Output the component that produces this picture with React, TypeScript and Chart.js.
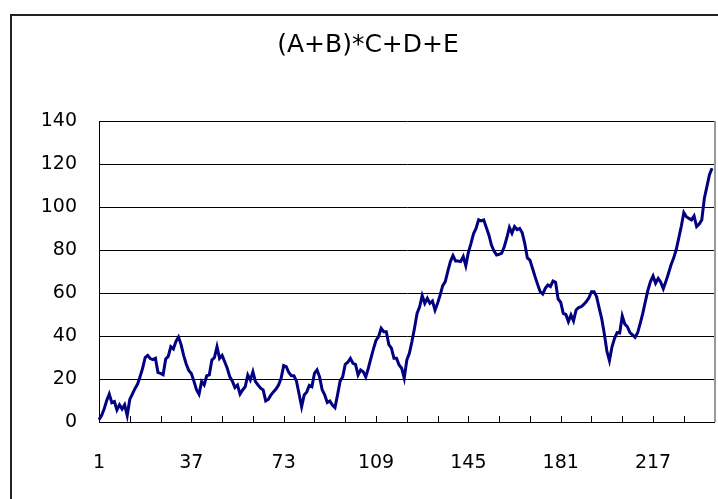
import React, { useEffect, useRef } from 'react';
import { Chart, registerables } from 'chart.js';

Chart.register(...registerables);

const TITLE = '(A+B)*C+D+E';
const CATEGORY_COUNT = 241;
const CATEGORIES = Array.from({ length: CATEGORY_COUNT }, (_, i) => String(i + 1));
const X_TICK_LABELS = ['1', '37', '73', '109', '145', '181', '217'];
const Y_MIN = 0;
const Y_MAX = 140;
const Y_STEP = 20;

const VALUES_1 = [
  1, 3, 6, 10, 13, 9, 9.5, 5.6, 8, 6, 8, 3, 10.5, 13, 15.5, 17.5, 21, 25, 30, 31,
  29.5, 29, 29.6, 23, 22.6, 22, 29.3, 30.5, 35, 34, 37.5, 39.5, 36, 31, 27, 24, 22.6, 19, 15, 12.9,
  18.8, 17.2, 21.5, 21.9, 28.8, 30, 35, 29.6, 31, 28, 25, 21, 19, 16, 17.2, 13, 14.9, 16.4, 21.9, 19.5,
];
const VALUES_2 = [
  23.4, 18.8, 17.2, 15.7, 14.9, 9.8, 10.5, 12.5, 14, 15.3, 17.2, 20.3, 26.2, 25.7, 23, 21.5, 21.5, 19, 13, 7.1,
  12.6, 14, 17, 16.4, 22.6, 24.2, 21, 15, 12.6, 9.1, 9.8, 7.9, 6.7, 12.6, 19, 21, 26.8, 27.8, 29.6, 27.3,
  26.8, 21.9, 24.2, 23.4, 21, 25, 29.6, 34, 38, 39.7, 43.6, 42, 42, 36, 34.3, 29.6, 29.6, 26.5, 25, 20.3,
];
const VALUES_3 = [
  28.8, 32, 37.4, 43.6, 50.5, 53.6, 58.8, 55.2, 57.5, 55.2, 56.3, 52, 55.2, 59, 63.4, 65.3, 70.2, 74.6, 77.4, 74.9,
  74.9, 74.6, 76.9, 72.7, 78.9, 83, 87.5, 90, 94, 93.5, 94, 90.5, 87, 82.3, 79.5, 77.7, 78, 78.5, 81.5, 85.7,
  90.5, 87.8, 90.9, 89.5, 90, 88, 83, 76.3, 75.3, 71.5, 67.6, 64, 60.6, 59.5, 62.2, 63.7, 63, 65.6, 65, 57.2,
];
const VALUES_4 = [
  55.7, 50.5, 50, 46.7, 49.8, 47, 52.1, 53.2, 53.6, 54.7, 56, 57.8, 60.6, 60.6, 58.3, 53, 48, 41, 33, 28.5,
  35, 38.9, 41.6, 41.4, 49.3, 45.5, 44.3, 41.6, 40.5, 39.4, 41.5, 45.9, 50.5, 56, 61.3, 65.3, 67.9, 64.5, 66.8, 65,
  62, 65.3, 69.1, 73, 76.1, 80, 85.4, 90.9, 97.4, 95.5, 94.7, 94, 95.8, 90.9, 92.1, 94, 104, 109.5, 115, 118,
];
const SERIES = [...VALUES_1, ...VALUES_2, ...VALUES_3, ...VALUES_4];

const FONT = '"DejaVu Sans", sans-serif';

export default function App() {
  const ref = useRef<HTMLCanvasElement>(null);

  useEffect(() => {
    const canvas = ref.current;
    if (!canvas) return;

    const framePlugin = {
      id: 'frame',
      beforeDraw(chart: any) {
        const ctx = chart.ctx;
        ctx.save();
        ctx.fillStyle = '#ffffff';
        ctx.fillRect(0, 0, chart.width, chart.height);
        ctx.strokeStyle = '#222222';
        ctx.lineWidth = 2;
        ctx.strokeRect(11, 15, chart.width + 40, chart.height + 40);
        ctx.fillStyle = '#000000';
        ctx.font = `25px ${FONT}`;
        ctx.textAlign = 'center';
        ctx.textBaseline = 'middle';
        ctx.fillText(TITLE, 368, 45);
        ctx.restore();
      },
      afterDatasetsDraw(chart: any) {
        const ctx = chart.ctx;
        const area = chart.chartArea;
        const xs = chart.scales.x;
        ctx.save();
        ctx.strokeStyle = '#999999';
        ctx.lineWidth = 2;
        ctx.beginPath();
        ctx.moveTo(Math.round(area.right), area.top);
        ctx.lineTo(Math.round(area.right), area.bottom);
        ctx.stroke();
        ctx.strokeStyle = '#000000';
        ctx.lineWidth = 1;
        ctx.beginPath();
        for (let i = 12; i < CATEGORY_COUNT - 1; i += 12) {
          const x = Math.round(xs.getPixelForValue(i)) + 0.5;
          ctx.moveTo(x, Math.round(area.bottom));
          ctx.lineTo(x, Math.round(area.bottom) - 6);
        }
        ctx.stroke();
        ctx.restore();
      },
    };

    const chart = new Chart(canvas, {
      type: 'line',
      data: {
        labels: CATEGORIES,
        datasets: [
          {
            data: SERIES,
            borderColor: '#000080',
            borderWidth: 3,
            pointRadius: 0,
            tension: 0,
            fill: false,
          },
        ],
      },
      options: {
        responsive: false,
        animation: false,
        events: [],
        layout: { padding: { top: 121, left: 0, right: 3.4, bottom: 0 } },
        plugins: {
          legend: { display: false },
          title: { display: false },
          tooltip: { enabled: false },
        },
        scales: {
          x: {
            type: 'category',
            offset: false,
            afterFit: (s: any) => {
              s.height = 77;
            },
            grid: { display: true, drawOnChartArea: false, drawTicks: false },
            border: { display: true, color: '#000000', width: 1 },
            ticks: {
              autoSkip: false,
              maxRotation: 0,
              minRotation: 0,
              padding: 30,
              color: '#000000',
              font: { family: FONT, size: 19 },
              callback: (_v: any, idx: number) =>
                X_TICK_LABELS.includes(CATEGORIES[idx]) ? CATEGORIES[idx] : null,
            },
          },
          y: {
            min: Y_MIN,
            max: Y_MAX,
            afterFit: (s: any) => {
              s.width = 99;
            },
            grid: { color: '#000000', lineWidth: 1, drawTicks: false },
            border: { display: true, color: '#000000', width: 1 },
            ticks: {
              stepSize: Y_STEP,
              padding: 22,
              color: '#000000',
              font: { family: FONT, size: 19 },
            },
          },
        },
      },
      plugins: [framePlugin],
    });

    return () => chart.destroy();
  }, []);

  return (
    <div style={{ position: 'fixed', left: 0, top: 0, width: 718, height: 499, background: '#fff' }}>
      <canvas ref={ref} width={718} height={499} style={{ display: 'block' }} />
    </div>
  );
}
